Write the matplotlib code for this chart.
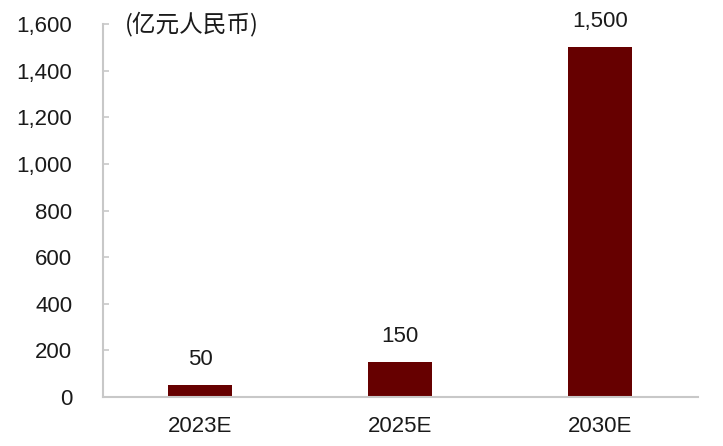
import matplotlib.pyplot as plt
from matplotlib.ticker import FuncFormatter

dpi = 100

categories = ["2023E", "2025E", "2030E"]
values = [50, 150, 1500]
value_labels = ["50", "150", "1,500"]
unit_label = "(亿元人民币)"

plt.rcParams["font.family"] = ["Liberation Sans", "Noto Sans CJK SC", "DejaVu Sans"]

fig = plt.figure(figsize=(7.23, 4.46), dpi=dpi)
ax = fig.add_axes([0.1425, 0.110, 0.8225, 0.836])

x = range(len(categories))
bars = ax.bar(x, values, width=0.32, color="#660000")

for xi, v, lab in zip(x, values, value_labels):
    ax.annotate(lab, (xi, v), xytext=(0, 11), textcoords="offset points",
                ha="center", va="bottom", fontsize=16, color="#1a1a1a")

ax.set_xlim(-0.485, 2.49)
ax.set_ylim(0, 1600)
ax.set_yticks(range(0, 1601, 200))
ax.yaxis.set_major_formatter(FuncFormatter(lambda v, p: f"{int(v):,}"))
ax.set_xticks(list(x))
ax.set_xticklabels(categories)

for side in ["top", "right"]:
    ax.spines[side].set_visible(False)
for side in ["left", "bottom"]:
    ax.spines[side].set_color("#c8c8c8")
    ax.spines[side].set_linewidth(1.5)

ax.tick_params(axis="y", direction="in", length=4, width=1.2, color="#c8c8c8",
               labelsize=16, labelcolor="#1a1a1a", pad=22)
ax.tick_params(axis="x", length=0, labelsize=16, labelcolor="#1a1a1a", pad=14)

ax.text(0.037, 1.0, unit_label, transform=ax.transAxes, ha="left", va="center",
        fontsize=17, color="#1a1a1a", family=["Noto Sans CJK SC", "DejaVu Sans"])

fig.savefig("out.png", dpi=dpi)
